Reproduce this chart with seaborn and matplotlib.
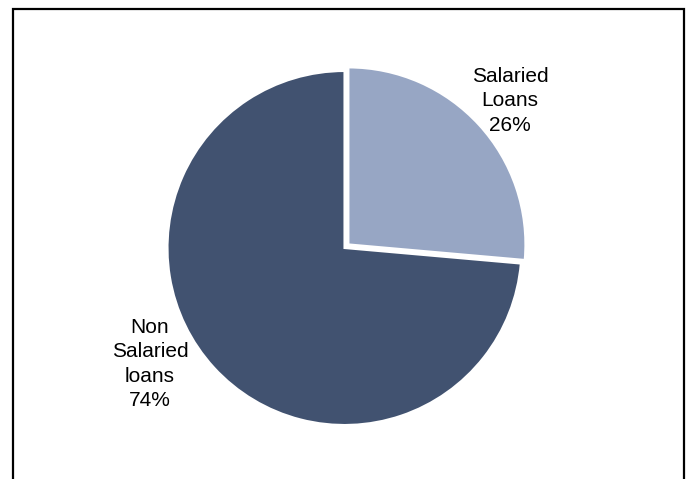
import matplotlib
matplotlib.use("Agg")
import matplotlib.pyplot as plt
import seaborn as sns
from matplotlib.lines import Line2D

categories = ["Salaried\nLoans", "Non\nSalaried\nloans"]
values = [26.4, 73.6]
colors = ["#97A6C4", "#415270"]

sns.set_style("white")
plt.rcParams['font.family'] = ['Liberation Sans', 'DejaVu Sans']

W, H = 688, 479
fig = plt.figure(figsize=(W / 100, H / 100), dpi=100)
ax = fig.add_axes([0, 0, 1, 1])

cx, cy, R = 344.5, 248, 177
ax.pie(values, colors=colors, startangle=90, counterclock=False,
       explode=[0.03, 0], radius=1.0,
       wedgeprops=dict(edgecolor="white", linewidth=1.5))
ax.set_xlim(-cx / R, (W - cx) / R)
ax.set_ylim(-(H - cy) / R, cy / R)
ax.set_aspect('auto')
ax.axis('off')

label_pos = [((510 - cx) / R, (cy - 101) / R), ((150 - cx) / R, (cy - 364) / R)]
for cat, v, (x, y) in zip(categories, values, label_pos):
    ax.text(x, y, f"{cat}\n{v:.0f}%", ha="center", va="center", fontsize=15,
            linespacing=1.36, color="black")

# border (top, left, right)
lx, rx = 12.5 / W, 683.5 / W
ty = 1 - 8.5 / H
fig.add_artist(Line2D([lx, lx, rx, rx], [0, ty, ty, 0], transform=fig.transFigure,
                      color="black", linewidth=1.6, solid_joinstyle="miter"))

fig.savefig("out.png", dpi=100)
